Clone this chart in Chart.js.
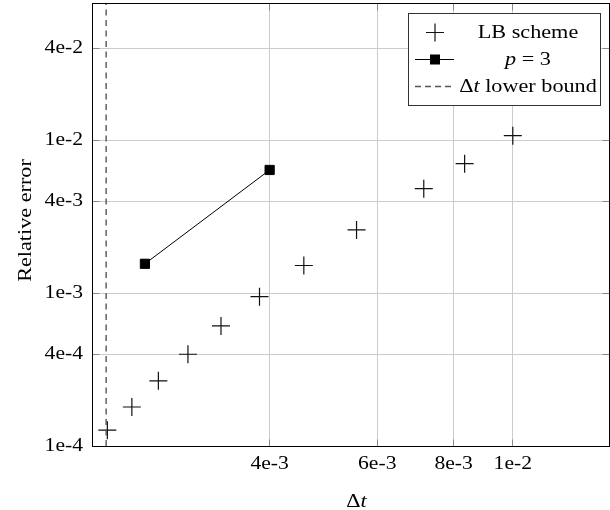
<!DOCTYPE html>
<html>
<head>
<meta charset="utf-8">
<script src="https://cdn.jsdelivr.net/npm/chart.js@4.4.1/dist/chart.umd.min.js"></script>
<style>
  html, body { margin: 0; padding: 0; background: #fff; }
  #c { display: block; }
</style>
</head>
<body>
<canvas id="c" width="610" height="510"></canvas>
<script>
// Time step vs. relative error for the lattice Boltzmann scheme
const lbDt  = [2.17e-3, 2.38e-3, 2.63e-3, 2.94e-3, 3.33e-3, 3.85e-3, 4.55e-3, 5.55e-3, 7.15e-3, 8.34e-3, 1.0e-2];
const lbErr = [1.27e-4, 1.80e-4, 2.67e-4, 3.99e-4, 6.11e-4, 9.50e-4, 1.52e-3, 2.60e-3, 4.84e-3, 7.06e-3, 1.076e-2];

// Reference slope p = 3
const p3Dt  = [2.5e-3, 4.0e-3];
const p3Err = [1.56e-3, 6.42e-3];

// Lower bound on the time step
const dtLowerBound = 2.16e-3;

// Axis ranges and ticks
const xRange = [2.048e-3, 1.437e-2];
const yRange = [1e-4, 7.96e-2];
const xTicks = [4e-3, 6e-3, 8e-3, 1e-2];
const xTickLabels = ['4e-3', '6e-3', '8e-3', '1e-2'];
const yTicks = [1e-4, 4e-4, 1e-3, 4e-3, 1e-2, 4e-2];
const yTickLabels = ['1e-4', '4e-4', '1e-3', '4e-3', '1e-2', '4e-2'];

// Legend entries as [text, italic] runs
const legendRuns = [
  [['LB scheme', false]],
  [['p', true], [' = 3', false]],
  [['\u0394', false], ['t', true], [' lower bound', false]]
];
const xTitleRuns = [['\u0394', false], ['t', true]];
const yTitle = 'Relative error';

const FAMILY = "'Liberation Serif', 'Times New Roman', serif";
const TEXT_SX = 1.2;   // horizontal text widening

const canvas = document.getElementById('c');
const ctx = canvas.getContext('2d');
const baseFill = ctx.fillText.bind(ctx);
const baseMeasure = ctx.measureText.bind(ctx);
ctx.fillText = function (t, x, y) {
  this.save();
  this.translate(x, y);
  this.scale(TEXT_SX, 1);
  baseFill(t, 0, 0);
  this.restore();
};
ctx.measureText = function (t) {
  const m = baseMeasure(t);
  return {
    width: m.width * TEXT_SX,
    actualBoundingBoxAscent: m.actualBoundingBoxAscent,
    actualBoundingBoxDescent: m.actualBoundingBoxDescent,
    actualBoundingBoxLeft: m.actualBoundingBoxLeft * TEXT_SX,
    actualBoundingBoxRight: m.actualBoundingBoxRight * TEXT_SX,
    fontBoundingBoxAscent: m.fontBoundingBoxAscent,
    fontBoundingBoxDescent: m.fontBoundingBoxDescent
  };
};

function align(px) { return Math.round(px - 0.5) + 0.5; }

function drawRuns(c, runs, cx, baseline, size) {
  const fonts = runs.map(r => (r[1] ? 'italic ' : '') + size + 'px ' + FAMILY);
  let total = 0;
  const widths = runs.map((r, i) => { c.font = fonts[i]; const w = c.measureText(r[0]).width; total += w; return w; });
  let x = cx - total / 2;
  c.textAlign = 'left';
  c.textBaseline = 'alphabetic';
  runs.forEach((r, i) => { c.font = fonts[i]; c.fillText(r[0], x, baseline); x += widths[i]; });
}

const decor = {
  id: 'decor',
  afterDraw(chart) {
    const c = chart.ctx;
    const a = chart.chartArea;
    const xs = chart.scales.x, ys = chart.scales.y;
    const L = align(a.left), R = align(a.right), T = align(a.top), B = align(a.bottom);
    c.save();

    // inner tick marks
    c.strokeStyle = '#8a8a8a';
    c.lineWidth = 1;
    c.beginPath();
    xTicks.forEach(v => {
      const px = align(xs.getPixelForValue(v));
      c.moveTo(px, B); c.lineTo(px, B - 7);
      c.moveTo(px, T); c.lineTo(px, T + 7);
    });
    yTicks.forEach(v => {
      const py = align(ys.getPixelForValue(v));
      c.moveTo(L, py); c.lineTo(L + 7, py);
      c.moveTo(R, py); c.lineTo(R - 7, py);
    });
    c.stroke();

    // frame
    c.strokeStyle = '#000';
    c.strokeRect(L, T, R - L, B - T);

    // axis titles
    c.fillStyle = '#000';
    drawRuns(c, xTitleRuns, (a.left + a.right) / 2 + 6, 507, 18.5);
    c.save();
    c.translate(31, (a.top + a.bottom) / 2 - 4);
    c.rotate(-Math.PI / 2);
    c.font = '18.5px ' + FAMILY;
    c.textAlign = 'center';
    c.textBaseline = 'alphabetic';
    c.fillText(yTitle, 0, 0);
    c.restore();

    // legend
    const bx = 408.5, by = 13.5, bw = 192, bh = 92;
    c.fillStyle = '#fff';
    c.fillRect(bx, by, bw, bh);
    c.strokeStyle = '#333';
    c.lineWidth = 1;
    c.strokeRect(bx, by, bw, bh);

    const baselines = [37.5, 64.5, 91.5];
    const mx = 435, textCx = 528;
    // cross
    let my = baselines[0] - 5;
    c.strokeStyle = '#111'; c.lineWidth = 1.2;
    c.beginPath();
    c.moveTo(mx - 9, my); c.lineTo(mx + 9, my);
    c.moveTo(mx, my - 9); c.lineTo(mx, my + 9);
    c.stroke();
    // line + square
    my = baselines[1] - 5;
    c.strokeStyle = '#000'; c.lineWidth = 1;
    c.beginPath(); c.moveTo(415, my); c.lineTo(454, my); c.stroke();
    c.fillStyle = '#000';
    c.fillRect(mx - 5, my - 5, 10, 10);
    // dashed
    my = baselines[2] - 5;
    c.strokeStyle = '#555'; c.lineWidth = 1.4;
    c.setLineDash([6, 4]);
    c.beginPath(); c.moveTo(415, my); c.lineTo(454, my); c.stroke();
    c.setLineDash([]);

    c.fillStyle = '#000';
    legendRuns.forEach((runs, i) => drawRuns(c, runs, textCx, baselines[i], 18.5));

    c.restore();
  }
};

new Chart(canvas, {
  type: 'line',
  data: {
    datasets: [
      {
        label: 'lower bound',
        data: yRange.map(v => ({ x: dtLowerBound, y: v })),
        borderColor: '#555',
        borderWidth: 1.4,
        borderDash: [6, 4.5],
        pointRadius: 0,
        fill: false
      },
      {
        label: 'LB scheme',
        data: lbDt.map((v, i) => ({ x: v, y: lbErr[i] })),
        showLine: false,
        pointStyle: 'cross',
        pointRadius: 9,
        pointBorderWidth: 1.2,
        pointBorderColor: '#111',
        borderColor: '#111'
      },
      {
        label: 'p = 3',
        data: p3Dt.map((v, i) => ({ x: v, y: p3Err[i] })),
        borderColor: '#000',
        borderWidth: 1,
        pointStyle: 'rect',
        pointRadius: 6.5,
        pointBorderWidth: 1,
        pointBackgroundColor: '#000',
        pointBorderColor: '#000',
        fill: false
      }
    ]
  },
  options: {
    responsive: false,
    animation: false,
    devicePixelRatio: 1,
    layout: { autoPadding: false, padding: { top: 3, right: 1, bottom: 0, left: 0 } },
    plugins: { legend: { display: false }, tooltip: { enabled: false } },
    scales: {
      x: {
        type: 'logarithmic',
        min: xRange[0],
        max: xRange[1],
        bounds: 'data',
        afterBuildTicks: s => { s.ticks = xTicks.map(v => ({ value: v })); },
        afterFit: s => { s.height = 64; s.paddingLeft = 0; s.paddingRight = 0; },
        ticks: {
          callback: (v, i) => xTickLabels[i],
          font: { family: FAMILY, size: 18 },
          color: '#000',
          padding: 7,
          maxRotation: 0,
          autoSkip: false
        },
        grid: { color: '#cccccc', lineWidth: 1, drawTicks: false },
        border: { color: '#000', width: 1 }
      },
      y: {
        type: 'logarithmic',
        min: yRange[0],
        max: yRange[1],
        bounds: 'data',
        afterBuildTicks: s => { s.ticks = yTicks.map(v => ({ value: v })); },
        afterFit: s => { s.width = 92; s.paddingTop = 0; s.paddingBottom = 0; },
        ticks: {
          callback: (v, i) => yTickLabels[i],
          font: { family: FAMILY, size: 18 },
          color: '#000',
          padding: 9,
          autoSkip: false
        },
        grid: { color: '#cccccc', lineWidth: 1, drawTicks: false },
        border: { color: '#000', width: 1 }
      }
    }
  },
  plugins: [decor]
});
</script>
</body>
</html>
